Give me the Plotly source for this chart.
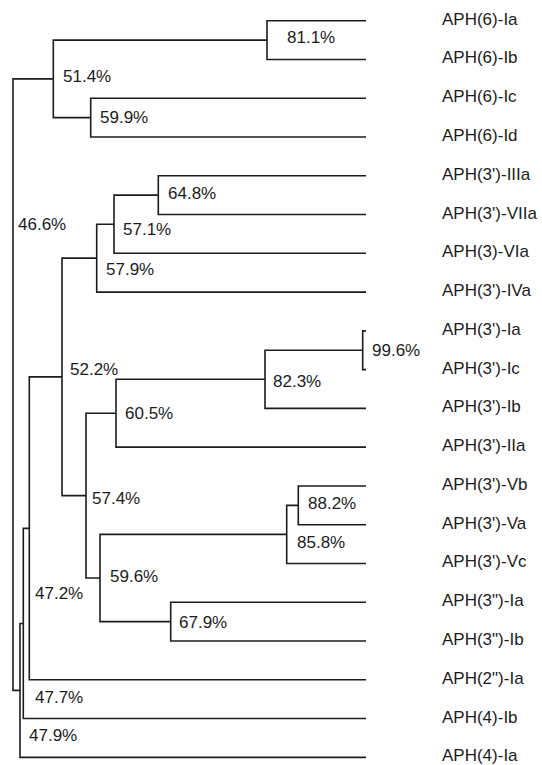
import plotly.graph_objects as go

# ---- data ----
leaf_names = [
    "APH(6)-Ia", "APH(6)-Ib", "APH(6)-Ic", "APH(6)-Id",
    "APH(3')-IIIa", "APH(3')-VIIa", "APH(3)-VIa", "APH(3')-IVa",
    "APH(3')-Ia", "APH(3')-Ic", "APH(3')-Ib", "APH(3')-IIa",
    "APH(3')-Vb", "APH(3')-Va", "APH(3')-Vc",
    "APH(3\")-Ia", "APH(3\")-Ib", "APH(2\")-Ia", "APH(4)-Ib", "APH(4)-Ia",
]
leaf_depth = 366.0  # tree depth of the tips

# internal nodes: ids 20.. in merge order (children: <20 = leaf, >=20 = node)
node_labels = ["81.1%", "59.9%", "51.4%", "64.8%", "57.1%", "57.9%", "99.6%",
               "82.3%", "60.5%", "88.2%", "85.8%", "67.9%", "59.6%", "57.4%",
               "52.2%", "47.2%", "47.7%", "47.9%", "46.6%"]
node_depth = [267, 90.7, 53.3, 158.3, 114, 96.7, 362.7, 265, 116, 298.3,
              286.7, 170.7, 100, 86, 62, 29.3, 23.3, 20, 13]
node_left = [0, 2, 20, 4, 23, 24, 8, 26, 27, 12, 29, 15, 30, 28, 25, 34, 35, 36, 22]
node_right = [1, 3, 21, 5, 6, 7, 9, 10, 11, 13, 14, 16, 31, 32, 33, 17, 18, 19, 37]

# ---- styling: label nudges in pixels (dx, dy down) ----
label_nudge = {
    "81.1%": (20, -3), "59.9%": (9, 0), "51.4%": (10, -2), "64.8%": (10, -1.5),
    "57.1%": (9, 5), "57.9%": (9, 11), "52.2%": (8, -7), "99.6%": (9, 0),
    "82.3%": (8, 2), "60.5%": (9, 0), "57.4%": (6, 2.5), "88.2%": (9.4, -1.5),
    "85.8%": (10, 8), "67.9%": (8.3, 1), "59.6%": (10, -2), "47.2%": (5.7, 65.5),
    "47.7%": (11.7, 74), "47.9%": (9, 45), "46.6%": (5, -160),
}
LINE = "#1c1c1c"
FONT = dict(family="Liberation Sans, Arial, sans-serif", size=17, color="#1c1c1c")

n_leaf = len(leaf_names)
pos_x = {i: leaf_depth for i in range(n_leaf)}
pos_y = {i: float(i) for i in range(n_leaf)}
for k, (l, r) in enumerate(zip(node_left, node_right)):
    nid = n_leaf + k
    pos_x[nid] = node_depth[k]
    pos_y[nid] = (pos_y[l] + pos_y[r]) / 2

xs, ys = [], []
for k, (l, r) in enumerate(zip(node_left, node_right)):
    nx = node_depth[k]
    # elbow: child l -> node -> child r
    xs += [pos_x[l], nx, nx, pos_x[r], None]
    ys += [pos_y[l], pos_y[l], pos_y[r], pos_y[r], None]

fig = go.Figure()
fig.add_trace(go.Scatter(x=xs, y=ys, mode="lines",
                         line=dict(color=LINE, width=1.6), hoverinfo="skip",
                         showlegend=False))

annotations = []
for i, name in enumerate(leaf_names):
    annotations.append(dict(x=leaf_depth, y=i, text=name, showarrow=False,
                            xanchor="left", yanchor="middle", xshift=73.5,
                            yshift=1.5, font=FONT))
for k, lab in enumerate(node_labels):
    nid = n_leaf + k
    dx, dy = label_nudge[lab]
    annotations.append(dict(x=pos_x[nid], y=pos_y[nid], text=lab, showarrow=False,
                            xanchor="left", yanchor="middle", xshift=dx - 2,
                            yshift=-dy, font=FONT))

spacing = 38.77
ymin = -20.7 / spacing
ymax = ymin + 765 / spacing
fig.update_layout(
    width=542, height=765, autosize=False,
    margin=dict(l=0, r=0, t=0, b=0),
    paper_bgcolor="white", plot_bgcolor="white",
    xaxis=dict(range=[0, 542], visible=False, fixedrange=True),
    yaxis=dict(range=[ymax, ymin], visible=False, fixedrange=True),
    annotations=annotations,
)
fig.write_html(
    "out.html",
    config=dict(displayModeBar=False),
    post_script="document.body.style.margin='0';document.body.style.overflow='hidden';",
)
